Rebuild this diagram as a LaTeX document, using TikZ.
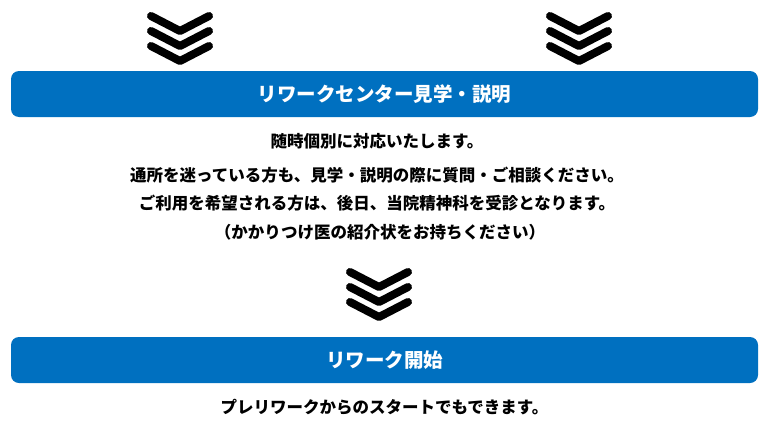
\documentclass[tikz,border=0pt]{standalone}
\usepackage{fontspec}
\setmainfont{Noto Sans CJK JP}
\definecolor{barblue}{RGB}{0,112,192}
\tikzset{
	bar/.style={fill=barblue, rounded corners=8pt, minimum width=747pt, minimum height=46pt, inner sep=0pt, text=white, font=\fontsize{19.5}{22}\selectfont\bfseries},
	body/.style={inner sep=0pt, font=\fontsize{16.5}{19}\selectfont\bfseries}
}
\def\downmark(#1,#2){\foreach \k in {0,1,2} \draw[line width=8pt, line cap=round, line join=round] ({#1-29},{#2+15*\k}) -- ({#1},{#2+15+15*\k}) -- ({#1+29},{#2+15*\k});}

\begin{document}
\begin{tikzpicture}[x=1pt, y=-1pt]
			%%%%% START %%%%%
			\useasboundingbox[fill=white] (0, 0) rectangle (774, 434);
			
			\downmark(180, 16)
			\downmark(579, 16)
			
			\node[bar] (visit) at (384.5, 94) {リワークセンター見学・説明};
			
			\node[body] (line1) at (377, 141.5) {随時個別に対応いたします。};
			\node[body] (line2) at (377, 175) {通所を迷っている方も、見学・説明の際に質問・ご相談ください。};
			\node[body] (line3) at (377, 203.5) {ご利用を希望される方は、後日、当院精神科を受診となります。};
			\node[body] (line4) at (380, 232) {（かかりつけ医の紹介状をお持ちください）};
			
			\downmark(379, 272)
			
			\node[bar] (start) at (384.5, 360) {リワーク開始};
			\node[body] (pre) at (384.5, 407.5) {プレリワークからのスタートでもできます。};
			
			%%%%% END %%%%%
		\end{tikzpicture}
\end{document}
